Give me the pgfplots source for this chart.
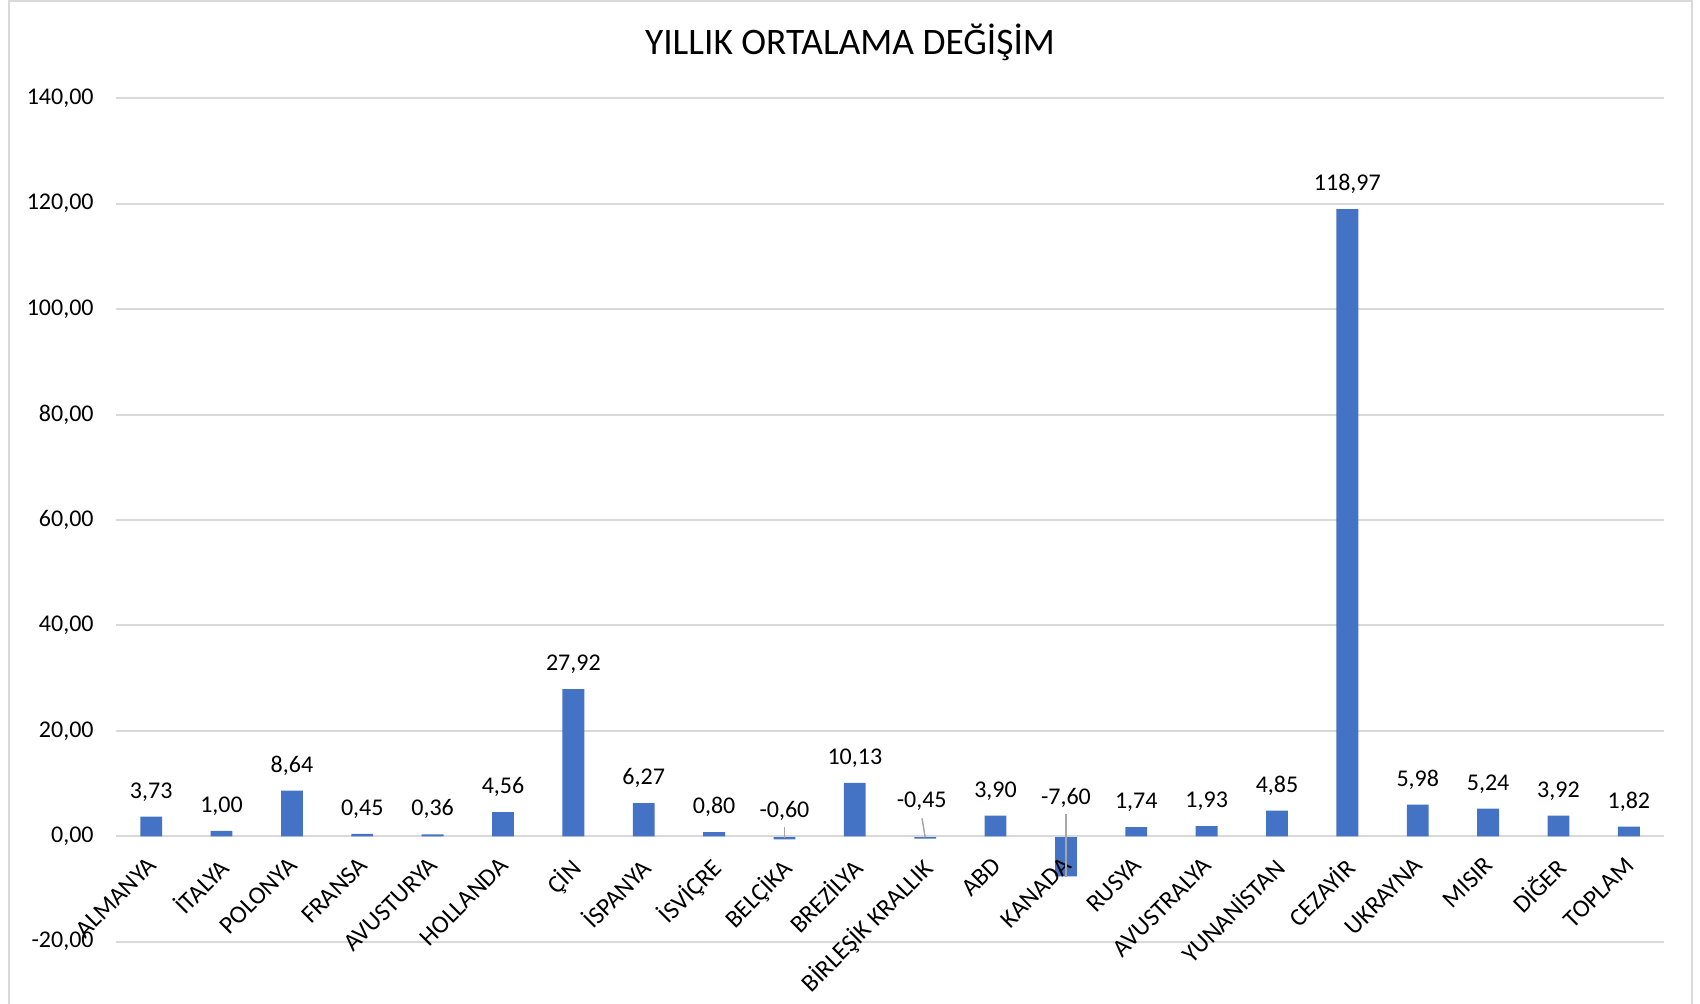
\documentclass[border=0pt]{standalone}
\usepackage{pgfplots}
\pgfplotsset{compat=1.18}
\usepackage{fontspec}
\setmainfont{Carlito}
\definecolor{barblue}{HTML}{4472C4}
\definecolor{gridgray}{HTML}{D9D9D9}
\definecolor{leadgray}{HTML}{A6A6A6}
\newcommand{\lblfont}{\fontsize{12}{14}\selectfont}
\newcommand{\xlblfont}{\fontsize{12.5}{14}\selectfont}
\pgfplotsset{layers/mylayers/.define layer set={axis background,axis grid,axis ticks,main,axis lines,axis tick labels,axis descriptions,axis foreground}{}}
\begin{document}
\begin{tikzpicture}
\begin{axis}[
  set layers=mylayers,
  at={(58pt,31.15pt)}, anchor=south west,
  scale only axis, width=774pt, height=421.7pt,
  xmin=-0.5, xmax=21.5, ymin=-20, ymax=140,
  ytick={-20,0,20,40,60,80,100,120,140},
  axis x line*=middle, axis y line*=left,
  x axis line style={gridgray, line width=1pt, -},
  y axis line style={draw=none},
  ymajorgrids, grid style={gridgray, line width=1pt},
  major tick length=0pt,
  xtick={0,...,21},
  xticklabels={ALMANYA, İTALYA, POLONYA, FRANSA, AVUSTURYA, HOLLANDA, ÇİN, İSPANYA, İSVİÇRE, BELÇİKA, BREZİLYA, BİRLEŞİK KRALLIK, ABD, KANADA, RUSYA, AVUSTRALYA, YUNANİSTAN, CEZAYİR, UKRAYNA, MISIR, DİĞER, TOPLAM},
  xticklabel style={xshift=-2.5pt, yshift=2.5pt, rotate=45, anchor=north east, inner sep=0pt, font=\xlblfont},
  xticklabel shift=12pt,
  yticklabel={\pgfmathprintnumber[fixed,fixed zerofill,precision=2,use comma,assume math mode=true]{\tick}},
  yticklabel style={font=\lblfont, inner sep=0pt, anchor=east},
  yticklabel shift=11pt,
  hide obscured x ticks=false, hide obscured y ticks=false,
  clip=false,
]
\addplot[ybar, bar width=0.31, bar shift=0pt, fill=barblue, draw=none,
  point meta=y, nodes near coords={\pgfmathprintnumber[fixed,fixed zerofill,precision=2,use comma,assume math mode=true]{\pgfplotspointmeta}},
  nodes near coords style={anchor=base, yshift=9.3pt, inner sep=0pt, font=\lblfont, text=black}]
coordinates {(0,3.73) (1,1.00) (2,8.64) (3,0.45) (4,0.36) (5,4.56) (6,27.92) (7,6.27) (8,0.80) (10,10.13) (12,3.90) (14,1.74) (15,1.93) (16,4.85) (17,118.97) (18,5.98) (19,5.24) (20,3.92) (21,1.82)};
\addplot[ybar, bar width=0.31, bar shift=0pt, fill=barblue, draw=none, on layer=axis background]
coordinates {(9,-0.60) (11,-0.45) (13,-7.60)};
\addplot[draw=none, mark=none, point meta=explicit symbolic, nodes near coords,
  nodes near coords style={anchor=base, inner sep=0pt, font=\lblfont, text=black}]
coordinates {(9,3.55) [-0{,}60] (10.95,5.4) [-0{,}45] (13,6.0) [-7{,}60]};
\begin{pgfonlayer}{axis foreground}
\draw[leadgray, line width=0.75pt] (axis cs:9,1.7) -- (axis cs:9,-0.4);
\draw[leadgray, line width=0.75pt] (axis cs:10.955,3.4) -- (axis cs:11,-0.2);
\draw[leadgray, line width=0.75pt] (axis cs:13,4.2) -- (axis cs:13,-7.8);
\end{pgfonlayer}
\end{axis}
\path[use as bounding box] (0,0) rectangle (850pt,502pt);
\draw[gridgray, line width=1pt] (4.5pt,-5pt) -- (4.5pt,501.5pt) -- (846pt,501.5pt) -- (846pt,-5pt);
\node[anchor=base, inner sep=0pt, font=\fontsize{18.7}{22}\selectfont] at (425pt,474.5pt) {YILLIK ORTALAMA DEĞİŞİM};
\end{tikzpicture}
\end{document}
